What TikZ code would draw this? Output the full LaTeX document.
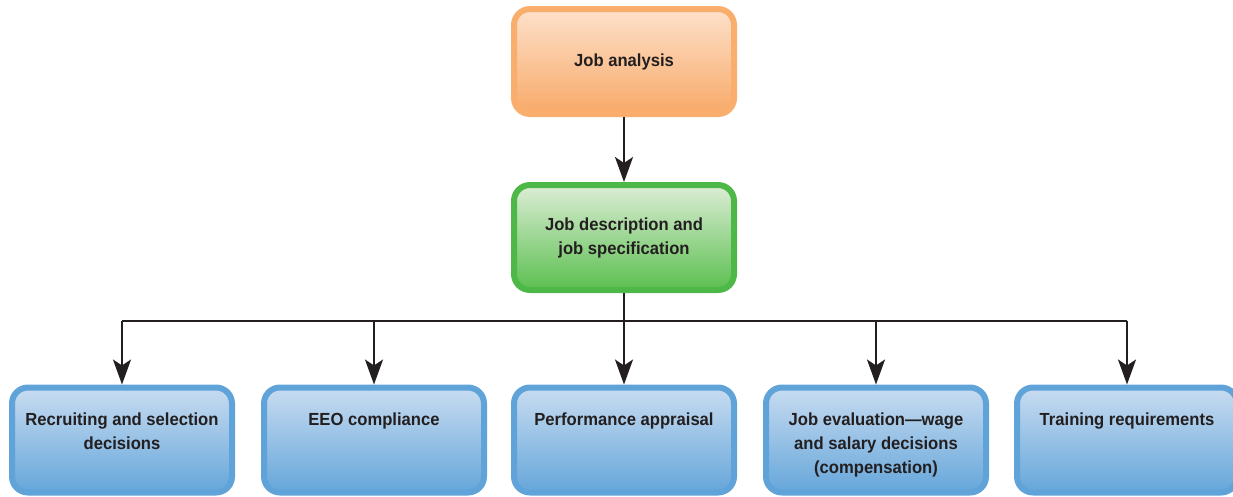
\documentclass[tikz,border=0pt]{standalone}
\usepackage{fontspec}
\setmainfont{Liberation Sans}[FakeStretch=0.95]
\usetikzlibrary{arrows.meta}
\definecolor{txt}{HTML}{231F20}
\definecolor{orB}{HTML}{F9AE6E}
\definecolor{orT}{HTML}{FDE1CB}
\definecolor{orD}{HTML}{F8A968}
\definecolor{grB}{HTML}{4DB848}
\definecolor{grT}{HTML}{DCEDD6}
\definecolor{grD}{HTML}{5BBF4F}
\definecolor{blB}{HTML}{5FA3D9}
\definecolor{blT}{HTML}{C8DCF1}
\definecolor{blD}{HTML}{65A6DA}
\newcommand{\toptext}[1]{\parbox[c][90pt][t]{215pt}{\centering\vspace*{18pt}#1}}
\tikzset{
  box/.style={rectangle, rounded corners=16pt, line width=6pt, minimum width=220pt,
    minimum height=105pt, inner sep=0pt, align=center, text=txt,
    font=\bfseries\fontsize{17.5}{24}\selectfont},
  orbox/.style={box, draw=orB, top color=orT, bottom color=orD},
  grbox/.style={box, draw=grB, top color=grT, bottom color=grD},
  blbox/.style={box, draw=blB, top color=blT, bottom color=blD},
  conn/.style={line width=2.2pt, draw=txt},
  arr/.style={conn, -{Stealth[length=25pt,width=18pt,inset=6pt]}}
}
\begin{document}
\begin{tikzpicture}[x=1pt,y=-1pt]
\useasboundingbox (0,0) rectangle (1233,496);
\node[orbox] (ja) at (624,61.5) {\raisebox{-2pt}{Job analysis}};
\node[grbox] (jd) at (624,237.5) {Job description and\\job specification};
\node[blbox] (b1) at (122,440) {\toptext{Recruiting and selection\\decisions}};
\node[blbox] (b2) at (374,440) {\toptext{EEO compliance}};
\node[blbox] (b3) at (624,440) {\toptext{Performance appraisal}};
\node[blbox] (b4) at (876,440) {\toptext{Job evaluation---wage\\and salary decisions\\(compensation)}};
\node[blbox] (b5) at (1127,440) {\toptext{Training requirements}};
\coordinate (bus) at ([yshift=-28pt]jd.south);
\draw[arr] (ja.south) -- (jd.north);
\draw[conn] (jd.south) -- (bus);
\draw[conn] (b1.north |- bus) -- (b5.north |- bus);
\foreach \b in {b1,b2,b3,b4,b5}{
  \draw[arr] (\b.north |- bus) -- (\b.north);
}
\end{tikzpicture}
\end{document}
